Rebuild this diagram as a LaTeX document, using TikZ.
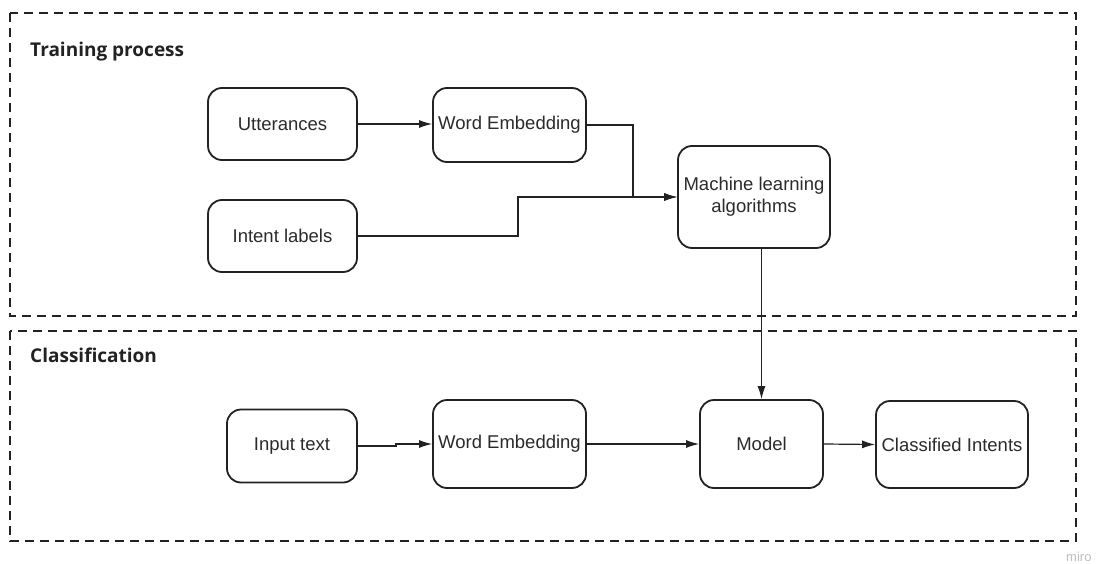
\documentclass[tikz,border=0pt]{standalone}
\usepackage{fontspec}
\setmainfont{Liberation Sans}
\newfontfamily\titlefont{Open Sans}
\usetikzlibrary{arrows.meta}
\definecolor{ink}{HTML}{2B2B2B}
\definecolor{dk}{HTML}{222222}
\tikzset{
  box/.style={draw=dk, line width=1.8pt, rounded corners=14pt, fill=white,
    font=\fontsize{18.5}{22}\selectfont, text=ink, inner sep=0pt, align=center},
  conn/.style={draw=dk, line width=1.2pt, -{Latex[length=13pt,width=8pt]}},
  region/.style={draw=dk, line width=1.8pt, dash pattern=on 9pt off 6pt},
  ttl/.style={font=\titlefont\bfseries\fontsize{19}{22}\selectfont, text=dk, anchor=west, inner sep=0pt}
}
\begin{document}
\begin{tikzpicture}[x=1pt,y=-1pt]
\useasboundingbox (0,0) rectangle (1107,564);
\fill[white] (0,0) rectangle (1107,564);
\draw[region] (10,13) rectangle (1076,316);
\draw[region] (10,331) rectangle (1076,541);
\node[ttl] (t1) at (30,52) {Training process};
\node[ttl] (t2) at (30,355) {Classification};

\node[box, minimum width=149pt, minimum height=72pt] (utt) at (282.5,124) {Utterances};
\node[box, minimum width=153pt, minimum height=74pt] (we1) at (509.5,125) {Word Embedding};
\node[box, minimum width=152pt, minimum height=102pt] (ml) at (754,197) {Machine learning\\algorithms};
\node[box, minimum width=149pt, minimum height=72pt] (int) at (282.5,236) {Intent labels};

\node[box, minimum width=130pt, minimum height=73pt] (inp) at (292,446) {Input text};
\node[box, minimum width=153pt, minimum height=88pt] (we2) at (509.5,444) {Word Embedding};
\node[box, minimum width=123pt, minimum height=88pt] (model) at (761.5,444) {Model};
\node[box, minimum width=152pt, minimum height=87pt] (ci) at (952,444.5) {Classified Intents};

\draw[conn] (utt.east) -- (utt.east -| we1.west);
\draw[conn] (we1.east) -- ++(46,0) |- (ml.west);
\draw[conn] (int.east) -- ++(160,0) |- (ml.west);
\draw[conn] (ml.south -| model.north) -- (model.north);
\draw[conn] (inp.east) -- ++(38,0) |- (we2.west);
\draw[conn] (we2.east) -- (model.west);
\draw[conn] (model.east) -- (ci.west);

\node[text=black!25, font=\fontsize{13}{13}\selectfont, anchor=base west, inner sep=0pt] (wm) at (1066,561) {miro};
\end{tikzpicture}
\end{document}
